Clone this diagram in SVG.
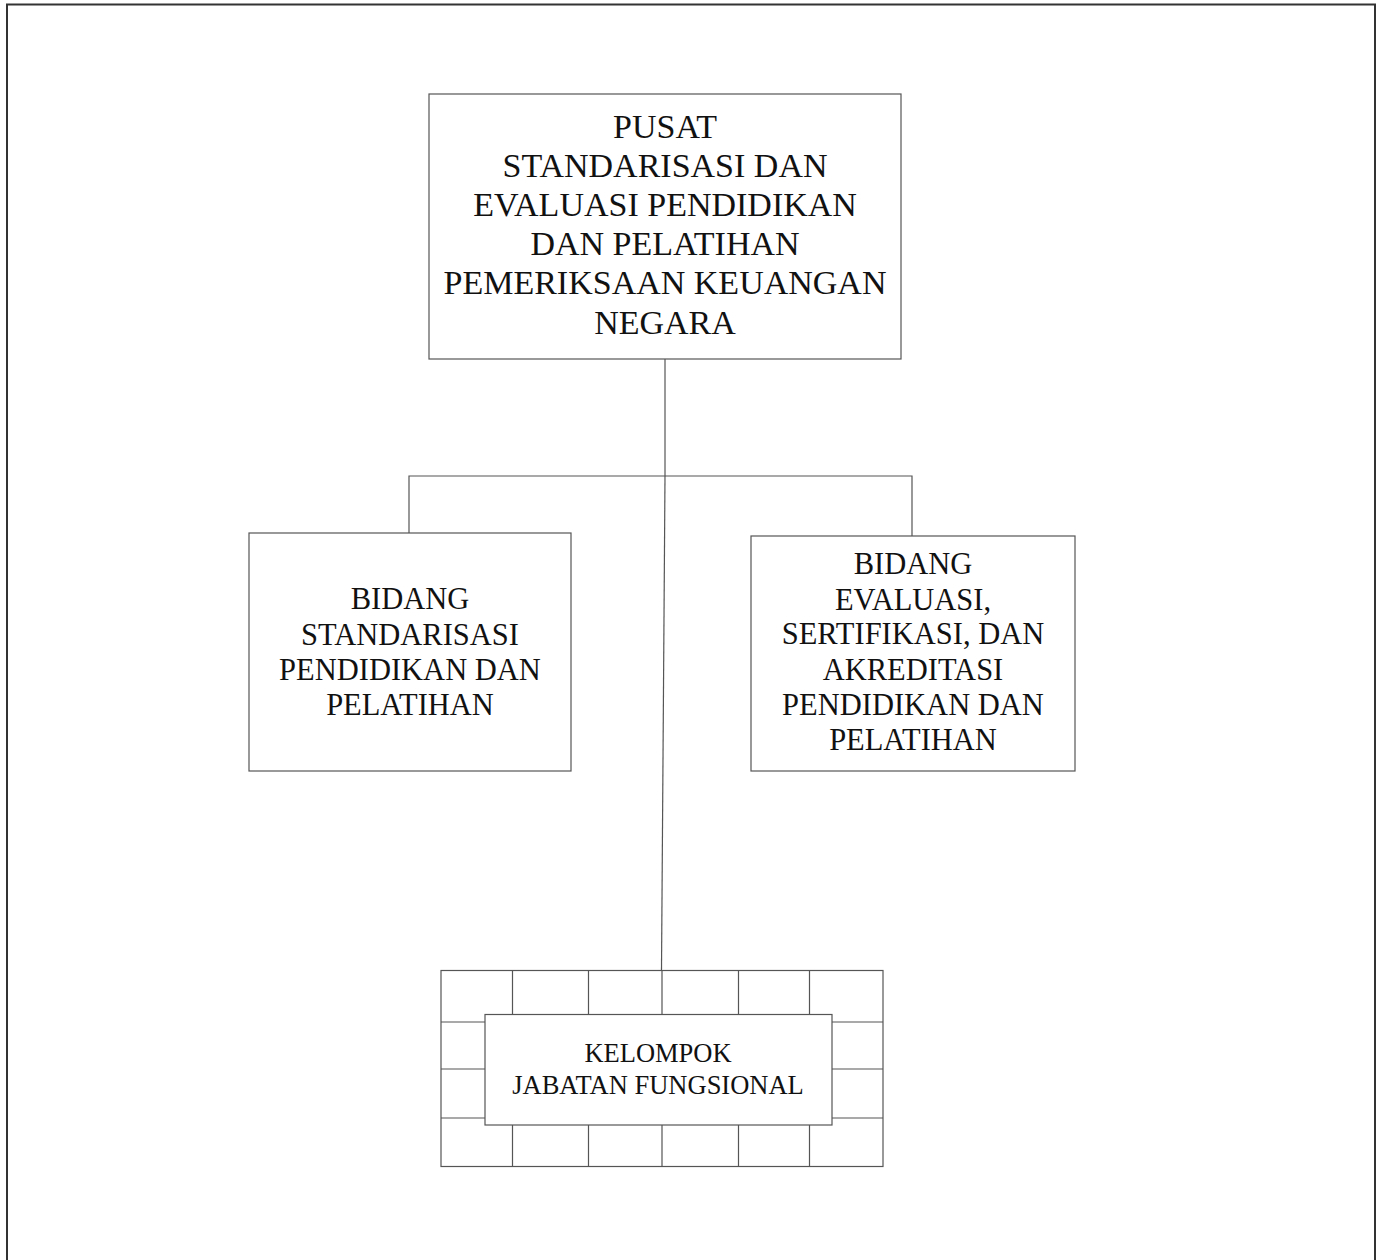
<svg xmlns="http://www.w3.org/2000/svg" width="1381" height="1260" viewBox="0 0 1381 1260">
  <style>
    .box { fill: #ffffff; stroke: #555555; stroke-width: 1.2; }
    .grid { fill: none; stroke: #555555; stroke-width: 1.2; }
    .link { fill: none; stroke: #555555; stroke-width: 1.2; }
    .frame { fill: none; stroke: #333333; stroke-width: 2; }
    .lbl { font-family: "Liberation Serif", "DejaVu Serif", serif; fill: #111111; text-anchor: middle; }
    .t34 { font-size: 34px; }
    .t30 { font-size: 30.5px; }
    .t26 { font-size: 26.5px; }
  </style>
  <rect width="1381" height="1260" fill="#ffffff"/>

  <!-- page frame (open at the bottom) -->
  <path class="frame" d="M7,1260 V4.5 H1375 V1260"/>

  <!-- connectors -->
  <g id="connectors">
    <path class="link" d="M665,359 V476"/>
    <path class="link" d="M409,533 V476 H912 V536"/>
    <path class="link" d="M665,476 L661.5,970"/>
  </g>

  <!-- head office -->
  <g id="node-pusat">
    <rect class="box" x="429" y="94" width="472" height="265"/>
    <text class="lbl t34" x="665" y="137.5">PUSAT</text>
    <text class="lbl t34" x="665" y="177">STANDARISASI DAN</text>
    <text class="lbl t34" x="665" y="216">EVALUASI PENDIDIKAN</text>
    <text class="lbl t34" x="665" y="255">DAN PELATIHAN</text>
    <text class="lbl t34" x="665" y="294">PEMERIKSAAN KEUANGAN</text>
    <text class="lbl t34" x="665" y="333.5">NEGARA</text>
  </g>

  <!-- standardisation division -->
  <g id="node-standarisasi">
    <rect class="box" x="249" y="533" width="322" height="238"/>
    <text class="lbl t30" x="410" y="608.5">BIDANG</text>
    <text class="lbl t30" x="410" y="644.5">STANDARISASI</text>
    <text class="lbl t30" x="410" y="679.5">PENDIDIKAN DAN</text>
    <text class="lbl t30" x="410" y="714.5">PELATIHAN</text>
  </g>

  <!-- evaluation division -->
  <g id="node-evaluasi">
    <rect class="box" x="751" y="536" width="324" height="235"/>
    <text class="lbl t30" x="913" y="573.5">BIDANG</text>
    <text class="lbl t30" x="913" y="609.5">EVALUASI,</text>
    <text class="lbl t30" x="913" y="644">SERTIFIKASI, DAN</text>
    <text class="lbl t30" x="913" y="679.5">AKREDITASI</text>
    <text class="lbl t30" x="913" y="714.5">PENDIDIKAN DAN</text>
    <text class="lbl t30" x="913" y="749.5">PELATIHAN</text>
  </g>

  <!-- functional group: tiled frame with label box on top -->
  <g id="node-kelompok">
    <rect class="grid" x="441" y="970.5" width="442" height="196"/>
    <path class="grid" d="M441,1022 H883 M441,1069 H883 M441,1118 H883 M512.5,970.5 V1166.5 M588.5,970.5 V1166.5 M662,970.5 V1166.5 M738.5,970.5 V1166.5 M809.5,970.5 V1166.5"/>
    <rect class="box" x="485" y="1014.5" width="347" height="110.5"/>
    <text class="lbl t26" x="658" y="1062">KELOMPOK</text>
    <text class="lbl t26" x="658" y="1093.5">JABATAN FUNGSIONAL</text>
  </g>
</svg>
